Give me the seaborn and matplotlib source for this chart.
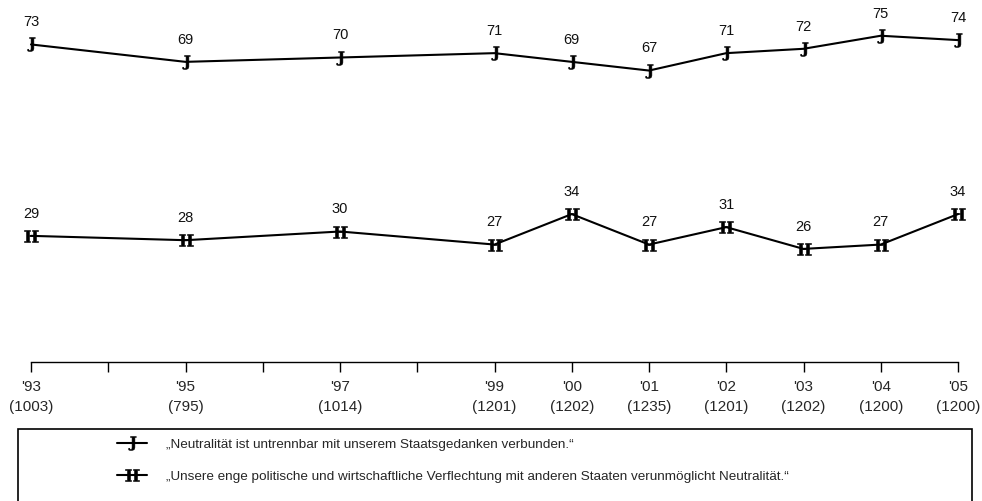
import pandas as pd
import matplotlib.pyplot as plt
import seaborn as sns
from matplotlib.patches import Rectangle

years = [1993, 1995, 1997, 1999, 2000, 2001, 2002, 2003, 2004, 2005]
samples = [1003, 795, 1014, 1201, 1202, 1235, 1201, 1202, 1200, 1200]
neutral_core = [73, 69, 70, 71, 69, 67, 71, 72, 75, 74]
interdep = [29, 28, 30, 27, 34, 27, 31, 26, 27, 34]
labels = ["\u201eNeutralit\u00e4t ist untrennbar mit unserem Staatsgedanken verbunden.\u201c",
          "\u201eUnsere enge politische und wirtschaftliche Verflechtung mit anderen Staaten verunm\u00f6glicht Neutralit\u00e4t.\u201c"]

df = pd.DataFrame({
    "year": years * 2,
    "value": neutral_core + interdep,
    "series": [labels[0]] * len(years) + [labels[1]] * len(years),
})

sns.set_style("white")
plt.rcParams["font.family"] = ["Liberation Sans", "DejaVu Sans"]
plt.rcParams["mathtext.fontset"] = "dejavuserif"

fig = plt.figure(figsize=(9.82, 5.01), dpi=100)
ax = fig.add_axes([0, (501 - 362) / 501, 1, 362 / 501])

sns.lineplot(data=df, x="year", y="value", hue="series", style="series",
             palette=["black", "black"], markers=[r"$\mathbf{J}$", r"$\mathbf{H}$"],
             dashes=False, markersize=10, linewidth=1.5, ax=ax,
             markeredgecolor="black", markeredgewidth=0.4, legend=True)

for vals in (neutral_core, interdep):
    for x, v in zip(years, vals):
        ax.annotate(str(v), (x, v), xytext=(0, 16), textcoords="offset points",
                    ha="center", va="center", fontsize=10.5, color="#111111")

px_per_year = 927 / 12
ax.set_xlim(1993 - 31 / px_per_year, 2005 + 24 / px_per_year)
ax.set_ylim(0, 362 / 4.35)

all_years = list(range(1993, 2006))
tick_labels = []
for y in all_years:
    if y in years:
        tick_labels.append("'%02d\n(%d)" % (y % 100, samples[years.index(y)]))
    else:
        tick_labels.append("")
ax.set_xticks(all_years)
ax.set_xticklabels(tick_labels, fontsize=11, linespacing=1.5)
ax.tick_params(axis="x", direction="out", length=7, width=1, color="black", pad=6, bottom=True)
ax.set_yticks([])
ax.set_xlabel("")
ax.set_ylabel("")
for s in ["top", "left", "right"]:
    ax.spines[s].set_visible(False)
ax.spines["bottom"].set_bounds(1993, 2005)
ax.spines["bottom"].set_color("black")
ax.spines["bottom"].set_linewidth(1)
ax.patch.set_alpha(0)

handles, _ = ax.get_legend_handles_labels()
ax.get_legend().remove()
fig.legend(handles, labels, loc="upper left", bbox_to_anchor=(105 / 982, 1 - 426 / 501),
           frameon=False, fontsize=9.7, handlelength=2.2, handletextpad=1.4,
           labelspacing=1.45)
fig.patches.append(Rectangle((18 / 982, -0.05), 954 / 982, 0.05 + 72 / 501,
                             transform=fig.transFigure, fill=False,
                             edgecolor="black", linewidth=1.2))

fig.savefig("out.png", dpi=100)
